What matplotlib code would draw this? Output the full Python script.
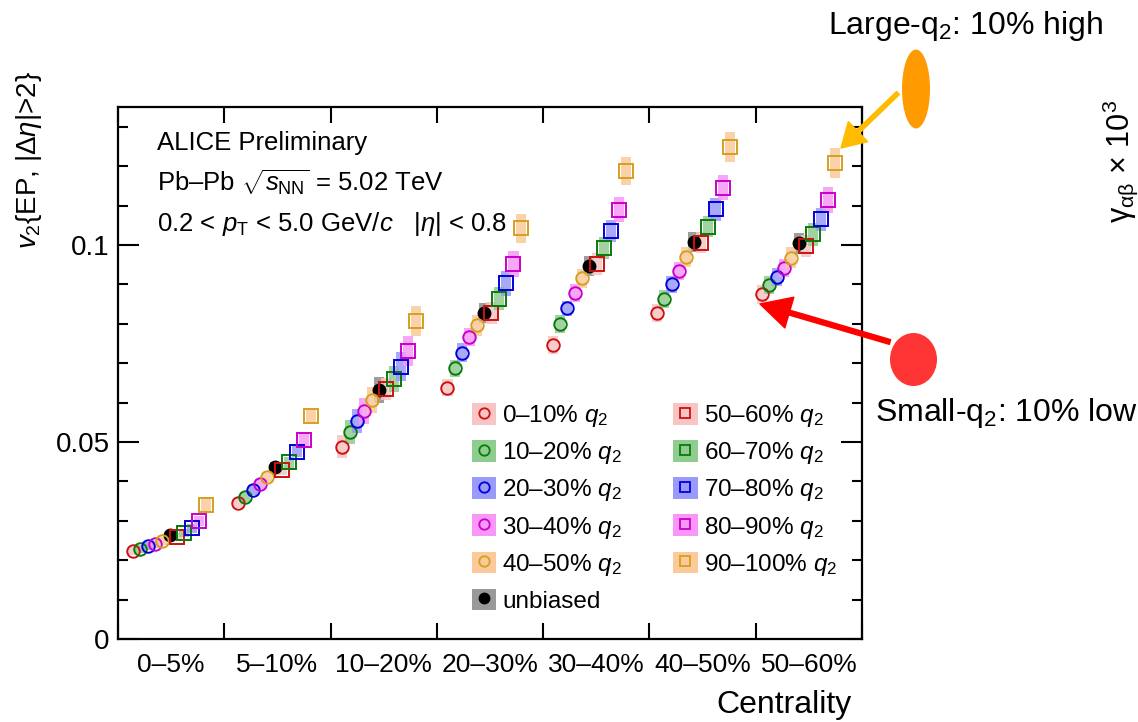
import numpy as np
import matplotlib.pyplot as plt
from matplotlib.patches import Rectangle, Ellipse
from matplotlib.lines import Line2D
from matplotlib.legend_handler import HandlerTuple

plt.rcParams['font.family'] = ['Liberation Sans', 'DejaVu Sans']
plt.rcParams['mathtext.fontset'] = 'custom'
plt.rcParams['mathtext.rm'] = 'Liberation Sans'
plt.rcParams['mathtext.it'] = 'Liberation Sans:italic'
plt.rcParams['mathtext.bf'] = 'Liberation Sans:bold'

# ---- data ----
centralities = ["0–5%", "5–10%", "10–20%", "20–30%", "30–40%", "40–50%", "50–60%"]
q2_classes = ["0–10%", "10–20%", "20–30%", "30–40%", "40–50%",
              "50–60%", "60–70%", "70–80%", "80–90%", "90–100%"]

# v2{EP} per centrality (rows) for each q2 class (columns)
v2_q2 = [
    [0.0223, 0.0228, 0.0235, 0.0241, 0.0249, 0.0259, 0.0268, 0.0281, 0.0299, 0.0340],
    [0.0345, 0.0360, 0.0378, 0.0393, 0.0411, 0.0429, 0.0449, 0.0475, 0.0505, 0.0565],
    [0.0488, 0.0525, 0.0554, 0.0579, 0.0607, 0.0634, 0.0660, 0.0691, 0.0731, 0.0807],
    [0.0638, 0.0687, 0.0727, 0.0766, 0.0796, 0.0828, 0.0864, 0.0903, 0.0952, 0.1042],
    [0.0746, 0.0799, 0.0839, 0.0878, 0.0915, 0.0951, 0.0992, 0.1036, 0.1089, 0.1188],
    [0.0827, 0.0862, 0.0900, 0.0933, 0.0970, 0.1006, 0.1046, 0.1090, 0.1145, 0.1249],
    [0.0875, 0.0898, 0.0919, 0.0942, 0.0968, 0.0997, 0.1027, 0.1065, 0.1114, 0.1207],
]
v2_unbiased = [0.0263, 0.0437, 0.0632, 0.0827, 0.0947, 0.1008, 0.1004]

# systematic uncertainties (half height, x 1e-3)
syst_q2 = [
    [1.0, 1.0, 1.0, 1.0, 1.0, 1.0, 1.0, 1.1, 1.2, 1.9],
    [1.2, 1.2, 1.2, 1.2, 1.3, 1.3, 1.4, 1.4, 1.5, 1.7],
    [2.9, 3.0, 3.0, 3.3, 3.3, 2.8, 3.4, 3.7, 3.8, 3.9],
    [2.2, 2.2, 2.4, 2.2, 2.7, 2.8, 2.9, 3.2, 3.3, 3.6],
    [2.2, 2.2, 1.9, 2.3, 2.5, 2.8, 2.8, 2.8, 3.2, 3.6],
    [2.3, 2.3, 2.2, 2.3, 2.5, 2.6, 2.7, 3.0, 3.2, 3.8],
    [2.4, 2.2, 2.2, 2.3, 2.7, 2.7, 2.9, 2.9, 3.4, 3.8],
]
syst_unbiased = [1.0, 1.3, 3.4, 2.5, 2.5, 2.5, 2.6]

# ---- style ----
edge_cols = ["#cc1111", "#0a7a0a", "#0000dd", "#c800c8", "#d4a020"]
box_cols = ["#f9c4c4", "#8fcc8f", "#9a9af8", "#f897f8", "#fbc99a"]
bin_start = [0.14, 0.13, 0.11, 0.10, 0.09, 0.07, 0.06]
step = 0.069
box_w = 0.095

W, H = 1138, 722
fig = plt.figure(figsize=(W / 100, H / 100), dpi=100)
ax = fig.add_axes([118 / W, 1 - 639 / H, 744 / W, 532 / H])


def fpx(x, y):
    return (x, H - y)


v2 = np.array(v2_q2)
syst = np.array(syst_q2) * 1e-3
for ic in range(len(centralities)):
    # unbiased sits in the middle of the sequence
    xu = ic + bin_start[ic] + 5 * step
    eu = syst_unbiased[ic] * 1e-3
    ax.bar(xu, 2 * eu, bottom=v2_unbiased[ic] - eu, width=box_w, color="#8c8c8c", alpha=0.85, lw=0, zorder=2)
    ax.plot(xu, v2_unbiased[ic], ls='none', marker='o', ms=9, color='black', zorder=3)
    for k in range(10):
        pos = k if k < 5 else k + 1
        x = ic + bin_start[ic] + pos * step
        c = k % 5
        ax.bar(x, 2 * syst[ic, k], bottom=v2[ic, k] - syst[ic, k], width=box_w,
               color=box_cols[c], alpha=0.85, lw=0, zorder=2)
        ax.plot(x, v2[ic, k], ls='none', marker='o' if k < 5 else 's', ms=9 if k < 5 else 9.5,
                mfc='none', mec=edge_cols[c], mew=1.4, zorder=4)

ax.set_xlim(0, 7)
ax.set_ylim(0, 0.135)
ax.set_xticks(np.arange(8))
ax.set_xticklabels([])
ax.set_xticks(np.arange(7) + 0.5, minor=True)
ax.set_xticklabels(centralities, minor=True, fontsize=19)
ax.set_yticks([0, 0.05, 0.1])
ax.set_yticklabels(["0", "0.05", "0.1"], fontsize=20)
ax.set_yticks(np.arange(0, 0.135, 0.01), minor=True)
ax.tick_params(axis='x', which='major', direction='in', length=11.5, width=1.5, top=True, bottom=True)
ax.tick_params(axis='x', which='minor', length=0, pad=10)
ax.tick_params(axis='y', which='major', direction='in', length=15, width=1.5, left=True, right=True, pad=6)
ax.tick_params(axis='y', which='minor', direction='in', length=7.5, width=1.5, left=True, right=True)
for s in ax.spines.values():
    s.set_linewidth(1.6)

ax.text((852 - 118) / 744, -(705 - 639) / 532, "Centrality", transform=ax.transAxes,
        ha='right', va='center', fontsize=23)
fig.text(29 / W, 1 - 160 / H, r"$v_{2}${EP, |Δ$\eta$|>2}", rotation=90, ha='center', va='center', fontsize=20)

fig.text(157 / W, 1 - 143 / H, "ALICE Preliminary", ha='left', va='center', fontsize=18.5)
fig.text(157 / W, 1 - 183 / H, r"Pb–Pb $\sqrt{s_{\mathrm{NN}}}$ = 5.02 TeV", ha='left', va='center', fontsize=18.5)
fig.text(157 / W, 1 - 224 / H, r"0.2 < $p_{\mathrm{T}}$ < 5.0 GeV/$c$   |$\eta$| < 0.8", ha='left', va='center', fontsize=18.5)

# ---- legend ----
handles, labels = [], []
for k in range(5):
    handles.append((Rectangle((0, 0), 1, 1, fc=box_cols[k], ec='none'),
                    Line2D([], [], ls='none', marker='o', ms=7.5, mfc='none', mec=edge_cols[k], mew=1.3)))
    labels.append(q2_classes[k] + r" $q_{2}$")
handles.append((Rectangle((0, 0), 1, 1, fc="#999999", ec='none'),
                Line2D([], [], ls='none', marker='o', ms=7.5, color='black')))
labels.append("unbiased")
for k in range(5):
    handles.append((Rectangle((0, 0), 1, 1, fc=box_cols[k], ec='none'),
                    Line2D([], [], ls='none', marker='s', ms=7.5, mfc='none', mec=edge_cols[k], mew=1.3)))
    labels.append(q2_classes[k + 5] + r" $q_{2}$")
ax.legend(handles, labels, handler_map={tuple: HandlerTuple(ndivide=1, pad=0)}, ncol=2,
          loc='upper left', bbox_to_anchor=(472 / W, 1 - 403 / H), bbox_transform=fig.transFigure,
          frameon=False, fontsize=17.5, handlelength=1.0, handleheight=1.0, handletextpad=0.25,
          columnspacing=2.1, labelspacing=0.45, borderpad=0, borderaxespad=0)

# ---- presentation overlays ----
fig.text(966 / W, 1 - 26 / H, r"Large-q$_{2}$: 10% high", ha='center', va='center', fontsize=23)
fig.text(1006 / W, 1 - 413 / H, r"Small-q$_{2}$: 10% low", ha='center', va='center', fontsize=23)
fig.text(1120 / W, 1 - 162 / H, r"γ$_{\mathrm{αβ}}$ × 10$^{3}$", rotation=90, ha='center', va='center', fontsize=22)

fig.add_artist(Ellipse(((916) / W, 1 - 89 / H), 28 / W, 79 / H, transform=fig.transFigure, color="#ff9a00", lw=0))
fig.add_artist(Ellipse(((913.5) / W, 1 - 359.5 / H), 47 / W, 53 / H, transform=fig.transFigure, color="#ff3535", lw=0))
ax.annotate("", xy=fpx(841, 148), xytext=fpx(898, 93), xycoords='figure pixels', textcoords='figure pixels',
            arrowprops=dict(width=3, headwidth=20, headlength=17, color="#ffbb00", shrink=0), annotation_clip=False)
ax.annotate("", xy=fpx(760, 304), xytext=fpx(890, 342), xycoords='figure pixels', textcoords='figure pixels',
            arrowprops=dict(width=3.5, headwidth=23, headlength=22, color="#ff0000", shrink=0), annotation_clip=False)

fig.savefig("out.png", dpi=100)
